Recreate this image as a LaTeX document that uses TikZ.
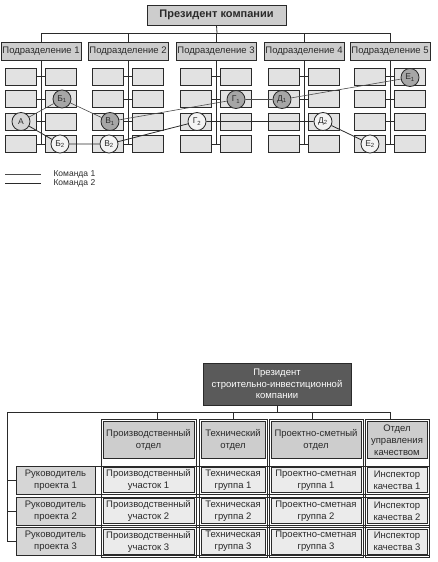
\documentclass[tikz,border=0pt]{standalone}
\usepackage{fontspec}
\setmainfont{Liberation Sans}
\usetikzlibrary{positioning}
\definecolor{ink}{HTML}{2A2A2A}
\definecolor{divfill}{HTML}{CDCDCD}
\definecolor{cellfill}{HTML}{E2E2E2}
\definecolor{lightfill}{HTML}{EBEBEB}
\definecolor{presdark}{HTML}{5A5A5A}
\definecolor{teamone}{HTML}{A6A6A6}
\definecolor{teamtwo}{HTML}{F4F4F4}
\definecolor{leadfill}{HTML}{D6D6D6}

\tikzset{
  divbox/.style={draw=ink,fill=divfill,line width=0.8pt,inner sep=0pt,
    minimum width=80pt,minimum height=18pt,text=ink,
    font=\fontsize{9.5}{11}\selectfont},
  cellbox/.style={draw=ink,fill=cellfill,line width=0.8pt,inner sep=0pt,
    minimum width=31pt,minimum height=17pt},
  member/.style={circle,draw=ink,line width=0.8pt,inner sep=0pt,
    minimum size=18pt,text=ink,font=\fontsize{8.5}{9}\selectfont},
  oneline/.style={ink!85,line width=0.6pt},
  twoline/.style={ink,line width=0.8pt},
  tabcell/.style={draw=ink,line width=0.7pt,inner sep=0pt,align=center,
    text=ink,font=\fontsize{9.5}{12}\selectfont},
}

\begin{document}
\begin{tikzpicture}[x=1pt,y=-1pt]
  \useasboundingbox (0,0) rectangle (437,562);

  % first chart: divisions and project teams
  \node[divbox,minimum width=139pt,minimum height=20pt,
    font=\fontsize{11}{13}\selectfont\bfseries] (pres) at (216.5,15) {Президент компании};
  \coordinate (bus) at (217,33);
  \draw[ink,line width=0.8pt] (pres.south) -- (bus);
  \foreach \i/\cx in {1/41,2/128,3/216,4/304,5/390} {
    \node[divbox] (d\i) at (\cx,51) {Подразделение \i};
    \draw[ink,line width=0.8pt] (d\i.north) |- (bus);
    \foreach \r/\y in {1/76.5,2/99,3/121.5,4/144} {
      \node[cellbox] (l\i-\r) at (\cx-20.5,\y) {};
      \node[cellbox] (r\i-\r) at (\cx+20,\y) {};
      \draw[ink,line width=0.8pt] (l\i-\r.east) -- (r\i-\r.west);
    }
    \draw[ink,line width=0.8pt] (d\i.south) -- (d\i.south |- l\i-4.east);
  }

  \node[member,fill=leadfill] (a) at (21,121.5) {А};
  \node[member,fill=teamone] (b1) at (62,99) {Б\textsubscript{1}};
  \node[member,fill=teamtwo] (b2) at (60,144) {Б\textsubscript{2}};
  \node[member,fill=teamone] (v1) at (110,121.5) {В\textsubscript{1}};
  \node[member,fill=teamtwo] (v2) at (109,144) {В\textsubscript{2}};
  \node[member,fill=teamone] (g1) at (236,99.5) {Г\textsubscript{1}};
  \node[member,fill=teamtwo] (g2) at (197,121.5) {Г\textsubscript{2}};
  \node[member,fill=teamone] (dd1) at (282,99.5) {Д\textsubscript{1}};
  \node[member,fill=teamtwo] (dd2) at (323,121.5) {Д\textsubscript{2}};
  \node[member,fill=teamone] (e1) at (410,77.5) {Е\textsubscript{1}};
  \node[member,fill=teamtwo] (e2) at (370,144) {Е\textsubscript{2}};

  \draw[oneline] (a) -- (b1) -- (v1) -- (g1) -- (dd1) -- (e1);
  \draw[twoline] (a) -- (b2) -- (v2) -- (g2) -- (dd2) -- (e2);

  % legend
  \node[anchor=west,text=ink,font=\fontsize{8.5}{9}\selectfont] (k1) at (50,174) {Команда 1};
  \node[anchor=west,text=ink,font=\fontsize{8.5}{9}\selectfont] (k2) at (50,183.5) {Команда 2};
  \coordinate (k1s) at (5,174);
  \coordinate (k2s) at (5,183.5);
  \draw[oneline] (k1s) -- ++(36,0);
  \draw[twoline] (k2s) -- ++(36,0);

  % second chart: matrix structure
  \node[tabcell,fill=presdark,text=white,line width=0.8pt,minimum width=148pt,
    minimum height=42pt,font=\fontsize{9.5}{11.5}\selectfont] (pres2) at (277,384)
    {Президент\\строительно-инвестиционной\\компании};
  \coordinate (busl) at (7,412);
  \coordinate (busr) at (390,412);
  \draw[ink,line width=0.8pt] (pres2.south) -- (pres2.south |- busl);
  \draw[ink,line width=0.8pt] (busl) -- (busr);

  % project rows
  \foreach \r/\y in {1/480,2/511,3/541.5} {
    \node[tabcell,minimum width=413pt,minimum height=28pt] (band\r) at (222.5,\y) {};
    \node[tabcell,fill=leadfill,minimum width=79pt,minimum height=28pt] (lead\r) at (55.5,\y)
      {Руководитель\\проекта \r};
    \draw[ink,line width=0.8pt] (busl) |- (lead\r.west);
  }

  % functional columns
  \foreach \n/\cx/\w/\s/\head/\cell in {
      1/148.5/95/8.5/{Производственный\\отдел}/{Производственный\\участок},
      2/233/68/0/{Технический\\отдел}/{Техническая\\группа},
      3/316/94/-4/{Проектно-сметный\\отдел}/{Проектно-сметная\\группа},
      4/397/64/-7/{Отдел\\управления\\качеством}/{Инспектор\\качества}} {
    \node[tabcell,line width=0.9pt,minimum width=\w pt,minimum height=138pt] (col\n) at (\cx,488) {};
    \node[tabcell,fill=divfill,minimum width=\w pt-4pt,minimum height=37pt] (h\n) at (\cx,440) {\head};
    \draw[ink,line width=0.8pt] ([xshift=\s]col\n.north) -- ([xshift=\s]col\n.north |- busl);
    \foreach \r/\y in {1/480,2/511,3/541.5}
      \node[tabcell,fill=lightfill,minimum width=\w pt-4pt,minimum height=25pt] (k\n-\r) at (\cx,\y) {\cell\ \r};
  }
\end{tikzpicture}
\end{document}
